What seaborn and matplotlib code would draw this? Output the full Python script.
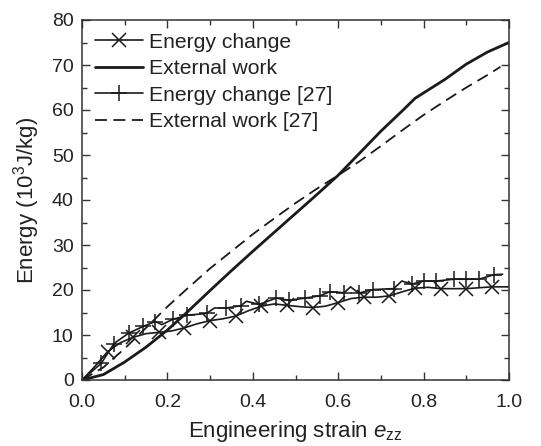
import numpy as np
import pandas as pd
import matplotlib
matplotlib.use("Agg")
import matplotlib.pyplot as plt
import seaborn as sns

# Energy change (this model): smooth curve, markers every 0.06 strain
strain_ec = [0.00, 0.03, 0.06, 0.09, 0.12, 0.15, 0.18, 0.21, 0.24, 0.27, 0.30,
             0.33, 0.36, 0.39, 0.42, 0.45, 0.48, 0.51, 0.54, 0.57, 0.60, 0.63,
             0.66, 0.69, 0.72, 0.75, 0.78, 0.81, 0.84, 0.87, 0.90, 0.93, 0.96,
             0.99, 1.00]
energy_ec = [0.0, 3.0, 6.3, 8.3, 9.5, 10.3, 10.6, 10.9, 11.6, 12.5, 13.2,
             13.6, 14.2, 15.4, 16.4, 16.9, 16.6, 16.3, 16.1, 16.4, 17.2, 18.1,
             18.4, 18.4, 18.7, 19.6, 20.4, 20.6, 20.3, 20.3, 20.3, 20.5, 20.7,
             20.7, 20.7]

# External work (this model)
strain_ew = [0.00, 0.05, 0.10, 0.15, 0.20, 0.25, 0.30, 0.35, 0.40, 0.45, 0.50,
             0.55, 0.60, 0.65, 0.70, 0.75, 0.78, 0.80, 0.85, 0.90, 0.95, 1.00]
energy_ew = [0.0, 1.2, 4.0, 7.3, 11.1, 15.4, 19.9, 24.3, 28.6, 32.8, 37.0,
             41.2, 45.5, 50.4, 55.3, 59.8, 62.6, 63.8, 66.8, 70.2, 72.9, 75.0]

# Energy change [27]: marker flag per vertex
strain_ec27 = [0.000, 0.045, 0.075, 0.109, 0.143, 0.172, 0.187, 0.213, 0.247,
               0.292, 0.310, 0.338, 0.372, 0.385, 0.415, 0.455, 0.485, 0.522,
               0.557, 0.580, 0.614, 0.629, 0.648, 0.681, 0.730, 0.749, 0.772,
               0.800, 0.830, 0.872, 0.900, 0.930, 0.965, 0.985]
energy_ec27 = [0.0, 3.7, 8.1, 10.4, 11.9, 13.0, 12.3, 13.5, 14.4,
               14.8, 16.0, 16.0, 16.5, 17.5, 16.8, 18.2, 17.7, 18.2,
               18.7, 19.6, 19.4, 20.7, 19.3, 20.1, 20.3, 22.0, 21.3,
               22.0, 22.0, 22.4, 22.4, 22.4, 23.4, 23.5]
marked_ec27 = [0, 1, 1, 1, 1, 1, 0, 1, 1,
               1, 0, 1, 1, 0, 1, 1, 1, 1,
               1, 1, 1, 0, 1, 1, 1, 0, 1,
               1, 1, 1, 1, 1, 1, 0]

# External work [27]
strain_ew27 = [0.00, 0.05, 0.10, 0.15, 0.20, 0.25, 0.30, 0.35, 0.40, 0.45, 0.50,
               0.55, 0.60, 0.65, 0.70, 0.75, 0.80, 0.85, 0.90, 0.95, 0.98]
energy_ew27 = [0.0, 2.8, 7.0, 11.6, 16.3, 20.6, 24.8, 28.6, 32.4, 35.9, 39.3,
               42.5, 45.5, 48.6, 52.0, 55.5, 58.9, 62.0, 65.0, 67.8, 69.6]

labels = ["Energy change", "External work", "Energy change [27]", "External work [27]"]

sns.set_theme(style="ticks")
plt.rcParams["font.family"] = ["Liberation Sans", "DejaVu Sans"]
plt.rcParams["mathtext.fontset"] = "custom"
plt.rcParams["mathtext.rm"] = "Liberation Sans"
plt.rcParams["mathtext.it"] = "Liberation Sans:italic"

ink = "#1a1a1a"
txt = "#222222"
fig = plt.figure(figsize=(5.41, 4.46), dpi=100)
ax = fig.add_axes([82 / 541, 66 / 446, 427 / 541, 360 / 446])

sns.lineplot(x=strain_ec, y=energy_ec, ax=ax, sort=False, color=ink, lw=1.2,
             marker="x", markersize=9.5, mew=1.1, mec=ink,
             markevery=slice(2, 33, 2), label=labels[0])
sns.lineplot(x=strain_ew, y=energy_ew, ax=ax, sort=False, color=ink, lw=2.0,
             label=labels[1])
mark_idx = [i for i, m in enumerate(marked_ec27) if m]
sns.lineplot(x=strain_ec27, y=energy_ec27, ax=ax, sort=False, color=ink, lw=1.2,
             marker="+", markersize=11.5, mew=1.1, mec=ink,
             markevery=mark_idx, label=labels[2])
sns.lineplot(x=strain_ew27, y=energy_ew27, ax=ax, sort=False, color=ink, lw=1.3,
             linestyle=(0, (6.6, 3.6)), label=labels[3])

ax.set_xlim(0, 1.0)
ax.set_ylim(0, 80)
ax.set_xticks(np.arange(0, 1.01, 0.2))
ax.set_xticks(np.arange(0.1, 1.0, 0.2), minor=True)
ax.set_yticks(np.arange(0, 81, 10))
ax.set_yticks(np.arange(5, 80, 10), minor=True)
ax.xaxis.set_major_formatter(matplotlib.ticker.FormatStrFormatter("%.1f"))

ax.tick_params(which="both", direction="in", top=True, right=True,
               color="#333333", width=1.0, labelsize=14, labelcolor=txt)
ax.tick_params(which="major", length=6)
ax.tick_params(which="minor", length=3.5)
ax.tick_params(axis="y", pad=6)
ax.tick_params(axis="x", pad=10)
for s in ax.spines.values():
    s.set_color("#333333")
    s.set_linewidth(1.1)

ax.set_xlabel(r"Engineering strain $\mathit{e}_{\mathrm{zz}}$", fontsize=16,
              color=txt, labelpad=6)
ax.set_ylabel(r"Energy (10$^{3}$J/kg)", fontsize=16, color=txt,
              labelpad=7)

leg = ax.legend(loc="upper left", frameon=False, fontsize=15.2,
                handlelength=2.27, handletextpad=0.3, labelspacing=0.36,
                borderaxespad=0.3, borderpad=0.3)
for t in leg.get_texts():
    t.set_color(txt)

fig.savefig("out.png", dpi=100)
